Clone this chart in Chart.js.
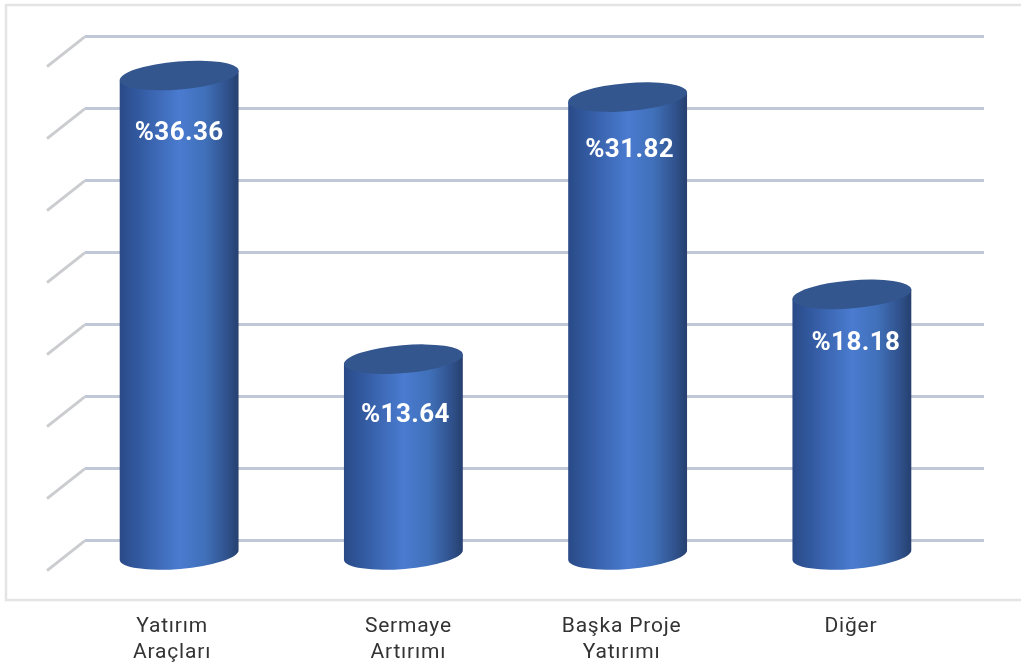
<!DOCTYPE html>
<html>
<head>
<meta charset="utf-8">
<script src="https://cdn.jsdelivr.net/npm/chart.js@4"></script>
<style>
	html, body { margin: 0; background: #fff; }
	canvas { display: block; }
</style>
</head>
<body>
<canvas id="chart" width="1021" height="666"></canvas>
<script>
var categories = [['Yatırım', 'Araçları'], ['Sermaye', 'Artırımı'], ['Başka Proje', 'Yatırımı'], ['Diğer']];
// printed labels
var valueLabels = ['%36.36', '%13.64', '%31.82', '%18.18'];
// heights as drawn: the first column is drawn shorter than its printed 36.36
var barValues = [33.3, 13.6, 31.8, 18.1];
// grid levels, the picture has no tick labels on this axis
var gridTicks = [1, 6, 11, 16, 21, 26, 31, 36];

// hand placement of the texts against their column centre
var tickNudge = [-7, 5, -6, -1];
var labelNudgeX = [0, 2, 2, 4];
var labelNudgeY = [58, 56, 53, 49];

function barGradient(ctx, x, half) {
	var g = ctx.createLinearGradient(x - half, 0, x + half, 0);
	g.addColorStop(0, '#2a4a87');
	g.addColorStop(0.12, '#30569a');
	g.addColorStop(0.5, '#4a7bd0');
	g.addColorStop(0.72, '#4070b9');
	g.addColorStop(0.9, '#30528d');
	g.addColorStop(1, '#26406f');
	return g;
}

var cylinderPlugin = {
	id: 'cylinder',
	afterLayout: function (chart) {
		chart.scales.x.getLabelItems().forEach(function (item, i) {
			item.options.translation[0] += tickNudge[i];
		});
	},
	beforeDraw: function (chart) {
		var ctx = chart.ctx;
		ctx.save();
		ctx.strokeStyle = '#e4e4e4';
		ctx.lineWidth = 2.5;
		ctx.strokeRect(6, 5, 1030, 595);
		ctx.restore();
		// the axis font runs wider than anything installed
		ctx.letterSpacing = '0.8px';
	},
	beforeDatasetsDraw: function (chart) {
		var ctx = chart.ctx;
		var scale = chart.scales.y;
		ctx.save();
		ctx.lineWidth = 3;
		ctx.lineJoin = 'round';
		scale.ticks.forEach(function (tick) {
			var y = scale.getPixelForValue(tick.value);
			ctx.strokeStyle = '#cbcccf';
			ctx.beginPath();
			ctx.moveTo(47, y + 30);
			ctx.lineTo(85, y);
			ctx.stroke();
			ctx.strokeStyle = '#c0c7d6';
			ctx.beginPath();
			ctx.moveTo(85, y);
			ctx.lineTo(984, y);
			ctx.stroke();
		});
		ctx.restore();
	},
	// the column body is cut by the tilted ellipses, so the plain rectangle is skipped
	beforeDatasetDraw: function (chart, args) {
		var ctx = chart.ctx;
		args.meta.data.forEach(function (bar, i) {
			var half = bar.width / 2;
			var tilt = -0.083;
			var rx = half / Math.cos(tilt);
			var ry = 14;
			var dy = half * Math.tan(tilt);
			ctx.save();
			ctx.fillStyle = barGradient(ctx, bar.x, half);
			ctx.beginPath();
			ctx.moveTo(bar.x + half, bar.y + dy);
			ctx.lineTo(bar.x + half, bar.base + dy);
			ctx.ellipse(bar.x, bar.base, rx, ry, tilt, 0, Math.PI);
			ctx.lineTo(bar.x - half, bar.y - dy);
			ctx.closePath();
			ctx.fill();
			ctx.fillStyle = bar.options.backgroundColor;
			ctx.beginPath();
			ctx.ellipse(bar.x, bar.y, rx, ry, tilt, 0, Math.PI * 2);
			ctx.fill();
			ctx.fillStyle = '#fff';
			ctx.font = 'bold 26px Roboto';
			ctx.letterSpacing = '0.4px';
			ctx.textAlign = 'center';
			ctx.textBaseline = 'middle';
			ctx.fillText(valueLabels[i], bar.x + labelNudgeX[i], bar.y + labelNudgeY[i]);
			ctx.restore();
		});
		return false;
	}
};

new Chart(document.getElementById('chart').getContext('2d'), {
	type: 'bar',
	data: {
		labels: categories,
		datasets: [{
			data: barValues,
			backgroundColor: '#34568f',
			barPercentage: 0.53,
			categoryPercentage: 1
		}]
	},
	plugins: [cylinderPlugin],
	options: {
		responsive: false,
		animation: false,
		layout: { padding: { left: 67, right: 57, top: 36.6, bottom: 0 } },
		plugins: { legend: { display: false }, tooltip: { enabled: false } },
		scales: {
			x: {
				grid: { display: false },
				border: { display: false },
				afterFit: function (scale) { scale.height = 111; },
				ticks: {
					color: '#333333',
					font: { family: 'Roboto', size: 21, lineHeight: 1.27 },
					padding: 50,
					maxRotation: 0,
					autoSkip: false
				}
			},
			y: {
				display: false,
				min: 0,
				max: 36,
				afterBuildTicks: function (scale) {
					scale.ticks = gridTicks.map(function (v) { return { value: v }; });
				}
			}
		}
	}
});
</script>
</body>
</html>
